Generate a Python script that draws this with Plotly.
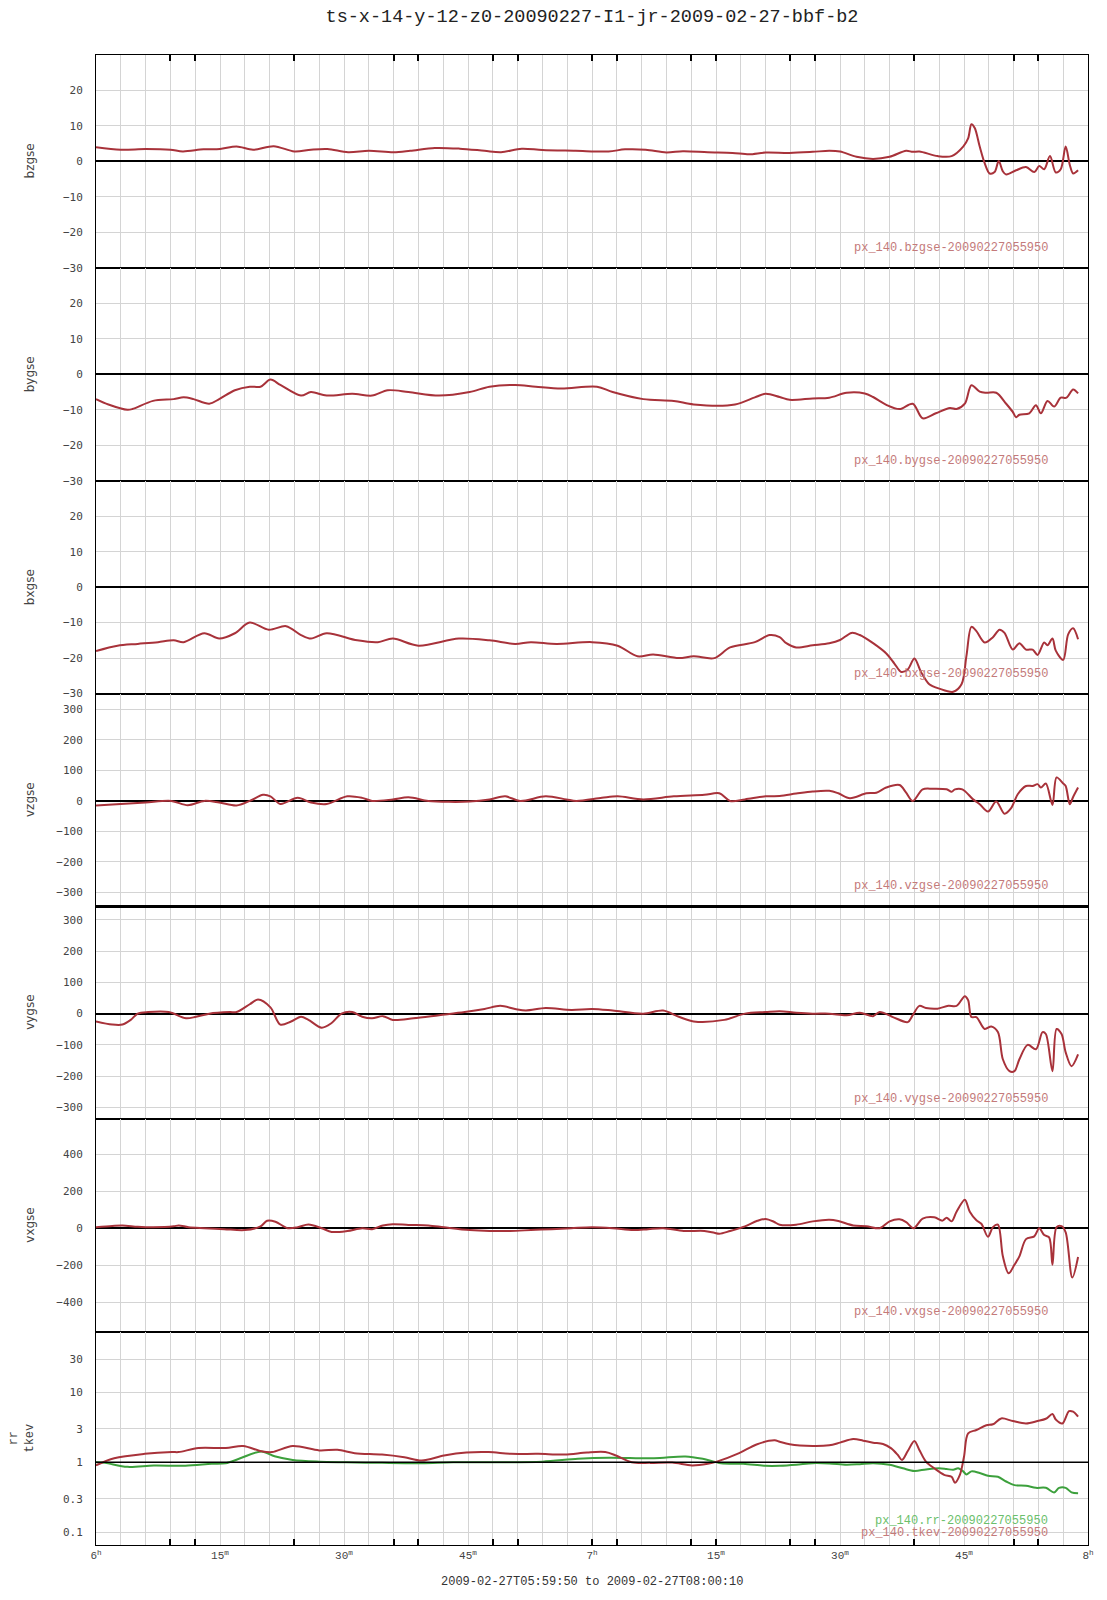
import pandas as pd
import plotly.graph_objects as go
from plotly.subplots import make_subplots

T0 = "2009-02-27 06:00:00"
TITLE = "ts-x-14-y-12-z0-20090227-I1-jr-2009-02-27-bbf-b2"
XTITLE = "2009-02-27T05:59:50 to 2009-02-27T08:00:10"

# ---------------- data (time in minutes after 06:00) ----------------
t_bz = [0, 3, 6, 9, 10.5, 13, 15, 17, 19, 21.5, 24, 26, 28, 30.5, 33, 36, 38, 41, 44, 47, 49, 51.5,
        54, 58, 62, 64, 66.5, 69, 71, 74, 77, 79, 81, 83.9, 86.7, 88.7, 90, 92, 94, 96, 98, 98.8,
        99.6, 101.8, 103.5, 104.9, 105.5, 105.9, 106.3, 106.9, 107.5, 108.1, 108.7, 109.2, 109.7,
        110.1, 111.3, 112.5, 113.5, 114.1, 114.7, 115.4, 116.1, 116.7, 117.3, 117.8, 118.2, 118.8]
bzgse = [4.0, 3.3, 3.5, 3.3, 2.8, 3.4, 3.5, 4.2, 3.3, 4.3, 2.8, 3.3, 3.5, 2.6, 3.0, 2.6, 3.0, 3.8,
         3.6, 3.0, 2.6, 3.6, 3.2, 3.0, 2.8, 3.4, 3.3, 2.5, 2.9, 2.6, 2.4, 2.0, 2.5, 2.4, 2.7, 3.0,
         2.8, 1.3, 0.7, 1.3, 3.0, 2.7, 2.8, 1.5, 1.5, 4.2, 6.5, 10.5, 9.4, 4.2, -0.5, -3.4, -3.0,
         0.1, -2.8, -3.7, -2.5, -1.6, -3.0, -1.3, -2.2, 1.5, -3.1, -2.2, 4.2, -1.0, -3.4, -2.5]

t_by = [0, 1.5, 3.8, 4.4, 6.9, 9.4, 10.6, 11.8, 13.7, 14.9, 16.8, 18.6, 19.9, 21.1, 22.3, 24.8,
        26.0, 27.9, 31.0, 33.4, 35.3, 37.8, 41.5, 45.2, 47.6, 50.7, 53.2, 56.3, 60.6, 62.5, 66.2,
        69.9, 72.3, 77.3, 79.7, 81.0, 82.7, 83.9, 86.7, 88.7, 90.8, 93.0, 94.0, 95.6, 97.2, 98.8,
        100.0, 101.6, 103.3, 104.1, 105.1, 105.9, 106.9, 107.7, 108.9, 110.1, 110.9, 111.3, 111.7,
        112.9, 113.7, 114.3, 115.1, 115.9, 116.7, 117.4, 118.2, 118.8]
bygse = [-7, -8.5, -10, -9.8, -7.5, -7, -6.5, -7, -8.3, -7, -4.5, -3.5, -3.5, -1.5, -3, -6, -5, -6,
         -5.5, -6, -4.5, -5, -6, -5, -3.5, -3, -3.5, -4, -3.5, -5, -7, -7.5, -8.5, -8.5, -6.5,
         -5.5, -6.4, -7.2, -6.8, -6.6, -5.2, -5.4, -6.4, -8.6, -9.8, -8.3, -12.4, -11.0, -9.5,
         -9.8, -8.3, -3.1, -4.9, -5.2, -5.2, -8.3, -10.6, -12.1, -11.4, -11.0, -8.7, -11.0, -7.5,
         -9.1, -6.6, -6.6, -4.3, -5.4]

t_bx = [0, 2.6, 5.05, 7.5, 9.4, 10.6, 13.1, 14.9, 16.8, 18.6, 20.9, 23.0, 24.8, 26.0, 27.9, 31.6,
        34.1, 35.9, 39.0, 43.9, 47.6, 50.7, 52.6, 55.7, 60.0, 63.1, 65.5, 67.4, 70.5, 72.3, 74.8,
        76.7, 79.7, 81.5, 82.7, 83.5, 84.7, 86.7, 88.7, 90.0, 91.4, 92.4, 94.0, 95.6, 96.6, 97.4,
        98.2, 99.0, 99.8, 100.8, 102.0, 103.7, 104.7, 105.3, 105.9, 106.5, 107.5, 108.5, 109.3,
        109.9, 110.9, 111.7, 112.5, 113.3, 113.9, 114.7, 115.1, 115.7, 116.1, 117.0, 117.6, 118.2,
        118.8]
bxgse = [-18, -16.5, -16, -15.5, -15, -15.5, -13, -14.5, -13, -10, -12, -11, -13.5, -14.5, -13,
         -15, -15.5, -14.5, -16.5, -14.5, -15, -16, -15.5, -16, -15.5, -16.5, -19.5, -19, -20,
         -19.5, -20, -17, -15.5, -13.5, -14.1, -15.8, -17.0, -16.4, -15.8, -14.9, -12.9, -13.5,
         -15.8, -18.7, -21.6, -23.9, -23.2, -20.1, -23.9, -27.4, -28.6, -29.5, -27.4, -19.3, -11.2,
         -12.4, -15.6, -14.1, -12.0, -12.9, -17.6, -15.8, -17.6, -17.6, -19.1, -15.6, -16.4, -14.5,
         -17.9, -20.5, -13.3, -11.6, -14.7]

t_vz = [0, 3.0, 6.0, 9.1, 11.1, 13.1, 14.9, 17.0, 18.6, 20.2, 21.1, 22.3, 24.4, 26.0, 27.9, 30.4,
        32.2, 33.4, 35.9, 37.8, 40.2, 42.7, 45.2, 47.6, 49.5, 51.3, 54.4, 56.9, 58.1, 61.2, 63.1,
        66.2, 69.9, 73.6, 75.4, 76.7, 78.5, 81.0, 82.7, 84.7, 86.7, 88.7, 89.8, 91.2, 93.2, 94.4,
        95.6, 97.2, 98.0, 98.8, 100.0, 101.2, 102.9, 103.5, 103.9, 104.8, 106.1, 106.9, 107.9,
        108.9, 109.9, 110.7, 111.5, 112.5, 113.3, 113.9, 114.3, 114.9, 115.7, 116.2, 117.0, 117.3,
        117.8, 118.2, 118.8]
vzgse = [-15, -10, -5, 0, -14, 0, -5, -15, 0, 20, 15, -10, 10, -5, -10, 15, 10, 0, 5, 12, 0, -3, -2,
         5, 15, 0, 15, 5, 0, 10, 15, 5, 15, 20, 25, 0, 5, 15, 16, 24, 31, 33, 25, 9, 25, 27, 44, 52,
         27, 0, 38, 40, 38, 30, 38, 38, 5, -11, -35, -2, -42, -24, 22, 49, 49, 55, 44, 57, -13, 77,
         57, 49, -11, 13, 44]

t_vy = [0, 1.96, 3.2, 4.2, 5.05, 6.3, 8.8, 10.9, 12.1, 13.7, 16.2, 17.0, 18.6, 19.6, 21.1, 22.3,
        23.6, 24.8, 25.7, 27.3, 28.5, 29.7, 31.0, 32.2, 33.4, 34.7, 35.9, 38.4, 41.5, 44.6, 47.0,
        48.9, 50.7, 52.0, 54.4, 57.5, 60.0, 62.5, 66.2, 68.6, 70.5, 72.3, 76.0, 78.5, 81.0, 82.7,
        84.7, 86.7, 88.7, 90.8, 92.4, 94.0, 94.8, 96.4, 98.2, 98.8, 99.6, 100.4, 101.8, 103.1,
        104.1, 105.1, 105.5, 105.9, 106.5, 107.5, 108.3, 109.1, 109.7, 110.5, 111.1, 111.7, 112.7,
        113.7, 114.5, 114.9, 115.7, 116.2, 116.8, 117.3, 118.0, 118.8]
vygse = [-25, -35, -35, -20, 0, 5, 5, -15, -10, 0, 5, 5, 30, 45, 20, -35, -25, -10, -20, -45, -30,
         0, 5, -10, -15, -8, -20, -15, -5, 5, 15, 25, 15, 10, 18, 12, 15, 10, 0, 10, -10, -25, -20,
         0, 5, 8, 3, 0, 0, -5, 3, -8, 5, -11, -27, -5, 25, 18, 16, 25, 25, 56, 43, -11, -11, -49,
         -41, -59, -146, -184, -184, -146, -100, -114, -59, -65, -184, -49, -65, -124, -168, -130]

t_vx = [0, 1.96, 3.2, 5.05, 6.9, 9.4, 10.0, 11.2, 13.1, 15.5, 18.0, 19.9, 20.7, 21.7, 23.2, 24.4,
        25.7, 27.3, 28.5, 30.4, 32.2, 33.4, 34.7, 35.9, 37.8, 40.2, 42.1, 45.2, 47.6, 50.1, 52.6,
        55.1, 57.5, 60.0, 62.5, 65.0, 66.8, 68.6, 71.1, 73.6, 74.8, 75.4, 76.7, 78.5, 80.0, 81.0,
        82.0, 82.7, 84.7, 86.7, 88.7, 89.8, 91.6, 93.2, 94.8, 96.0, 97.2, 98.0, 98.9, 100.0,
        101.4, 102.4, 102.9, 103.5, 104.1, 105.1, 105.7, 106.5, 107.1, 107.9, 108.5, 109.1, 109.7,
        110.4, 111.1, 111.7, 112.5, 113.5, 114.1, 114.7, 115.3, 115.7, 116.2, 116.8, 117.3, 118.1,
        118.8]
vxgse = [5, 12, 15, 8, 5, 10, 15, 5, 0, -5, -10, 10, 40, 35, 0, 5, 20, 0, -20, -15, 0, -5, 15, 22,
         18, 15, 5, -10, -15, -15, -10, -5, 0, 5, 0, -10, -5, 0, -15, -15, -25, -30, -15, 10, 40,
         50, 35, 19, 19, 37, 46, 39, 15, 11, 0, 37, 48, 33, 0, 52, 59, 41, 57, 37, 89, 154, 89, 43,
         24, -46, 6, 19, -152, -244, -198, -152, -59, -44, 0, -37, -50, -198, 6, 11, -22, -267,
         -156]

t_tk = [0, 2.2, 5.9, 9.2, 10.0, 12.4, 15.7, 17.8, 20.0, 21.3, 23.8, 27.0, 29.2, 31.3, 34.6, 37.3,
        39.4, 42.1, 44.8, 47.5, 50.2, 53.5, 56.7, 59.4, 61.6, 62.9, 64.8, 67.0, 69.7, 72.1, 74.0,
        75.1, 77.8, 79.9, 82.1, 82.7, 83.9, 86.7, 88.7, 90.0, 91.6, 92.8, 94.0, 95.2, 96.2, 97.0,
        97.5, 98.2, 99.0, 99.6, 100.4, 101.4, 102.6, 103.5, 103.9, 104.5, 105.0, 105.5, 106.5,
        107.7, 108.5, 109.5, 110.9, 112.5, 113.9, 114.9, 115.7, 116.1, 116.9, 117.7, 118.2, 118.8]
tkev = [0.9, 1.14, 1.32, 1.4, 1.4, 1.6, 1.6, 1.71, 1.44, 1.4, 1.71, 1.48, 1.51, 1.35, 1.29, 1.18,
        1.06, 1.25, 1.38, 1.4, 1.32, 1.32, 1.29, 1.38, 1.4, 1.25, 1.0, 0.98, 0.99, 0.9, 0.95, 1.02,
        1.35, 1.8, 2.07, 1.97, 1.81, 1.71, 1.75, 1.91, 2.15, 2.04, 1.91, 1.83, 1.58, 1.27, 1.08,
        1.45, 2.02, 1.50, 1.02, 0.82, 0.66, 0.62, 0.51, 0.66, 1.20, 2.6, 2.9, 3.4, 3.5, 4.25, 3.9,
        3.6, 3.9, 4.2, 4.9, 4.1, 3.6, 5.4, 5.3, 4.5]

t_rr = [0, 1.1, 3.8, 7.0, 10.8, 14.0, 15.7, 17.3, 20.0, 21.6, 23.8, 27.0, 30.2, 34.6, 39.4, 43.2,
        48.6, 54.0, 58.3, 62.1, 67.5, 71.3, 73.4, 75.6, 78.3, 81.0, 82.7, 84.7, 86.7, 88.7, 90.8,
        92.4, 94.0, 96.0, 97.6, 99.0, 100.4, 102.0, 102.9, 103.7, 104.3, 104.9, 105.3, 105.9,
        106.9, 107.9, 109.1, 110.1, 111.1, 112.5, 113.7, 114.9, 115.9, 116.5, 117.3, 118.0, 118.8]
rr = [1.0, 0.98, 0.86, 0.9, 0.89, 0.95, 0.97, 1.12, 1.43, 1.22, 1.08, 1.02, 1.0, 0.98, 0.97, 1.0,
      1.0, 1.02, 1.12, 1.16, 1.14, 1.21, 1.12, 0.97, 0.95, 0.89, 0.89, 0.92, 0.97, 0.96, 0.92,
      0.94, 0.97, 0.92, 0.82, 0.75, 0.79, 0.82, 0.80, 0.78, 0.82, 0.74, 0.67, 0.74, 0.70, 0.64,
      0.62, 0.53, 0.47, 0.46, 0.43, 0.43, 0.37, 0.43, 0.43, 0.37, 0.36]

panel_names = ["bzgse", "bygse", "bxgse", "vzgse", "vygse", "vxgse"]
legend_names = ["px_140.bzgse-20090227055950", "px_140.bygse-20090227055950",
                "px_140.bxgse-20090227055950", "px_140.vzgse-20090227055950",
                "px_140.vygse-20090227055950", "px_140.vxgse-20090227055950"]
rr_name = "px_140.rr-20090227055950"
tkev_name = "px_140.tkev-20090227055950"

y_ranges = [[-30, 30], [-30, 30], [-30, 30], [-346, 352], [-338, 343], [-562, 589]]
y_ticks = [[-30, -20, -10, 0, 10, 20]] * 3 + [[-300, -200, -100, 0, 100, 200, 300]] * 2 + \
          [[-400, -200, 0, 200, 400]]
log_ticks = [0.1, 0.3, 1, 3, 10, 30]
log_ticktext = ["0.1", "0.3", "1", "3", "10", "30"]
log_range = [-1.186, 1.865]

x_grid_min = list(range(0, 121, 3))
x_mark_min = [9, 12, 24, 36, 39, 48, 51, 60, 63, 72, 75, 84, 87, 99, 111, 114]


def tt(m):
    return pd.Timestamp(T0) + pd.to_timedelta(m, unit="min")


def xlabel(m):
    if m % 15:
        return ""
    if m % 60 == 0:
        return f"{6 + m // 60}<sup>h</sup>"
    return f"{m % 60}<sup>m</sup>"


RED = "#a8323a"
GREEN = "#3ca03c"
RED_TXT = "#c47a7a"
GREEN_TXT = "#6cbf6c"
GRID = "#d4d4d4"

FIG_W, FIG_H = 1107, 1600
M_L, M_T, M_R, M_B = 96, 55, 19, 55
PW = FIG_W - M_L - M_R
PH = FIG_H - M_T - M_B
LW = 1

fig = make_subplots(rows=7, cols=1, shared_xaxes=True, vertical_spacing=0)

line_style = dict(width=2, shape="spline", smoothing=0.9)
series = [(t_bz, bzgse), (t_by, bygse), (t_bx, bxgse), (t_vz, vzgse), (t_vy, vygse), (t_vx, vxgse)]
for i, (tm, vals) in enumerate(series):
    fig.add_trace(go.Scatter(x=tt(tm), y=vals, mode="lines", name=legend_names[i],
                             line=dict(color=RED, **line_style), showlegend=False),
                  row=i + 1, col=1)
fig.add_trace(go.Scatter(x=tt(t_rr), y=rr, mode="lines", name=rr_name,
                         line=dict(color=GREEN, **line_style), showlegend=False), row=7, col=1)
fig.add_trace(go.Scatter(x=tt(t_tk), y=tkev, mode="lines", name=tkev_name,
                         line=dict(color=RED, **line_style), showlegend=False), row=7, col=1)

tickfont = dict(family="DejaVu Sans Mono", size=11, color="#444")
fig.update_xaxes(range=[tt(0), tt(120)], tickmode="array", tickvals=tt(x_grid_min),
                 ticktext=[xlabel(m) for m in x_grid_min], showgrid=True, gridcolor=GRID,
                 gridwidth=1, showline=True, linecolor="black", linewidth=LW, mirror=True,
                 ticks="", zeroline=False)
fig.update_xaxes(row=7, col=1, showticklabels=True,
                 tickfont=dict(family="Liberation Mono", size=11, color="#444"),
                 minor=dict(tickmode="array", tickvals=tt(x_mark_min), ticks="inside",
                            ticklen=6, tickcolor="black", tickwidth=1.5, showgrid=False))
fig.update_xaxes(row=1, col=1, side="top",
                 minor=dict(tickmode="array", tickvals=tt(x_mark_min), ticks="inside",
                            ticklen=6, tickcolor="black", tickwidth=1.5, showgrid=False))

for i in range(6):
    fig.update_yaxes(row=i + 1, col=1, range=y_ranges[i], tickmode="array", tickvals=y_ticks[i],
                     showgrid=True, gridcolor=GRID, gridwidth=1, showline=True, linecolor="black",
                     linewidth=LW, mirror=True, ticks="", zeroline=True, zerolinecolor="black",
                     zerolinewidth=1.5, tickfont=tickfont, ticklabelstandoff=10)
fig.update_yaxes(row=7, col=1, type="log", range=log_range, tickmode="array", tickvals=log_ticks,
                 ticktext=log_ticktext, showgrid=True, gridcolor=GRID, gridwidth=1, showline=True,
                 linecolor="black", linewidth=LW, mirror=True, ticks="", zeroline=False,
                 tickfont=tickfont, ticklabelstandoff=10)
fig.add_hline(y=1, row=7, col=1, line=dict(color="black", width=1.5), layer="above")

# thicker boundary between the vzgse and vygse panels, as in the reference
fig.add_shape(type="line", xref="paper", yref="paper", x0=0, x1=1, y0=3 / 7, y1=3 / 7,
              line=dict(color="black", width=3))

# annotations
for i in range(6):
    ymid = 1 - (i + 0.5) / 7
    fig.add_annotation(xref="paper", yref="paper", x=(30 - 96) / PW, y=ymid, text=panel_names[i],
                       textangle=-90, showarrow=False, xanchor="center", yanchor="middle",
                       font=dict(family="DejaVu Sans", size=12, color="#444"))
    ybot = 1 - (i + 1) / 7
    fig.add_annotation(xref="paper", yref="paper", x=(1050 - 96) / PW, y=ybot + 20 / PH,
                       text=legend_names[i], showarrow=False, xanchor="right", yanchor="middle",
                       font=dict(family="Liberation Mono", size=12, color=RED_TXT))
fig.add_annotation(xref="paper", yref="paper", x=(22 - 96) / PW, y=0.5 / 7,
                   text="rr<br>tkev", textangle=-90, showarrow=False, xanchor="center",
                   yanchor="middle", font=dict(family="Liberation Mono", size=12, color="#444"))
fig.add_annotation(xref="paper", yref="paper", x=(1050 - 96) / PW, y=24 / PH, text=rr_name,
                   showarrow=False, xanchor="right", yanchor="middle",
                   font=dict(family="Liberation Mono", size=12, color=GREEN_TXT))
fig.add_annotation(xref="paper", yref="paper", x=(1050 - 96) / PW, y=12 / PH, text=tkev_name,
                   showarrow=False, xanchor="right", yanchor="middle",
                   font=dict(family="Liberation Mono", size=12, color=RED_TXT))
fig.add_annotation(xref="paper", yref="paper", x=0.5, y=-(1582 - 1545) / PH, text=XTITLE,
                   showarrow=False, xanchor="center", yanchor="middle",
                   font=dict(family="Liberation Mono", size=12, color="#333"))

fig.update_layout(
    width=FIG_W, height=FIG_H,
    margin=dict(l=M_L, r=M_R, t=M_T, b=M_B, autoexpand=False),
    paper_bgcolor="white", plot_bgcolor="white",
    title=dict(text=TITLE, x=0.5, xref="paper", xanchor="center", y=1 - 16 / FIG_H,
               yanchor="middle", font=dict(family="Liberation Mono", size=18.5, color="#222")),
    showlegend=False,
)

# remove the default 8px page margin so the figure starts at the window's corner
fig.write_html("out.html", config={"displayModeBar": False},
               post_script="document.body.style.margin='0';")
